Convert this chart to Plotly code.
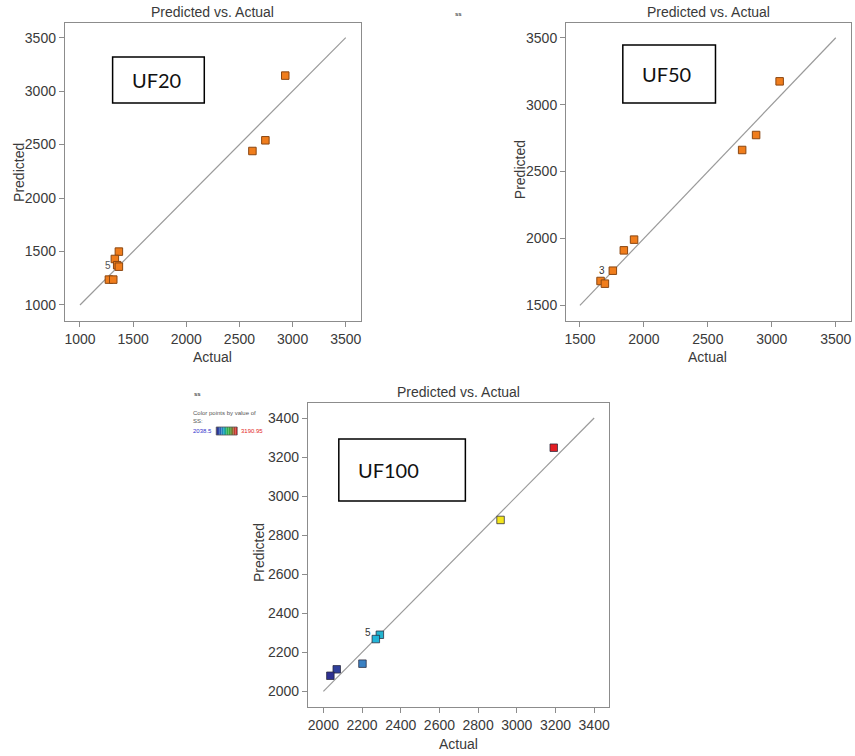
import plotly.graph_objects as go

W, H = 855, 756

# ---------------- data ----------------
uf20_actual = [2931, 2744, 2622, 1366, 1328, 1350, 1366, 1272, 1313]
uf20_pred = [3145, 2540, 2440, 1499, 1430, 1372, 1358, 1237, 1237]

uf50_actual = [3061, 2877, 2768, 1923, 1843, 1757, 1661, 1695]
uf50_pred = [3174, 2773, 2661, 1991, 1911, 1759, 1682, 1662]

uf100_actual = [3191, 2916, 2292, 2271, 2202, 2069, 2036]
uf100_pred = [3248, 2878, 2290, 2268, 2142, 2113, 2080]

uf20_ticks = [1000, 1500, 2000, 2500, 3000, 3500]
uf50_ticks = [1500, 2000, 2500, 3000, 3500]
uf100_ticks = [2000, 2200, 2400, 2600, 2800, 3000, 3200, 3400]

uf20_line = [1000, 3500]
uf50_line = [1500, 3500]
uf100_line = [2000, 3400]

ss_min, ss_max = 2038.5, 3190.95

# ---------------- styling ----------------
FONT = "Liberation Sans, Arial, sans-serif"
AXC = "#8c8c8c"
TXT = "#3a3a3a"
ORANGE = "#f07d1c"
ORANGE_EDGE = "#8a4712"
colorscale = [
    [0.0, "#2e3192"],
    [0.14, "#3b7fc2"],
    [0.2, "#22b4d8"],
    [0.5, "#2fb34a"],
    [0.76, "#f4e61c"],
    [1.0, "#e31e24"],
]


def px_x(p):
    return p / W


def px_y(p):
    return 1 - p / H


fig = go.Figure()

panels = [
    ("uf20", uf20_actual, uf20_pred, uf20_line, uf20_ticks, "x", "y", (63, 360, 23, 321), [857, 3641], [850, 3637]),
    ("uf50", uf50_actual, uf50_pred, uf50_line, uf50_ticks, "x2", "y2", (566, 852, 23, 321), [1391, 3619], [1383, 3610]),
    ("uf100", uf100_actual, uf100_pred, uf100_line, uf100_ticks, "x3", "y3", (307, 609, 403, 707), [1920, 3476], [1920, 3477]),
]

for name, act, pred, line, ticks, xa, ya, dom, xr, yr in panels:
    fig.add_trace(go.Scatter(
        x=line, y=line, mode="lines", xaxis=xa, yaxis=ya,
        line=dict(color="#9a9a9a", width=1.2), hoverinfo="skip", showlegend=False))
    if name == "uf100":
        marker = dict(symbol="square", size=7.5, color=act, colorscale=colorscale,
                      cmin=ss_min, cmax=ss_max, showscale=False,
                      line=dict(color="rgba(40,40,60,0.75)", width=1))
    else:
        marker = dict(symbol="square", size=7.5, color=ORANGE,
                      line=dict(color=ORANGE_EDGE, width=1))
    fig.add_trace(go.Scatter(
        x=act, y=pred, mode="markers", xaxis=xa, yaxis=ya,
        marker=marker, showlegend=False))

axis_common = dict(
    showline=True, mirror=True, linecolor=AXC, linewidth=1,
    ticks="outside", ticklen=5, tickcolor=AXC, tickwidth=1,
    showgrid=False, zeroline=False,
    tickfont=dict(family=FONT, size=14, color=TXT),
)

layout_axes = {}
for i, (name, act, pred, line, ticks, xa, ya, dom, xr, yr) in enumerate(panels):
    l, r, t, b = dom
    suffix = "" if i == 0 else str(i + 1)
    layout_axes["xaxis" + suffix] = dict(
        axis_common, domain=[px_x(l), px_x(r)], range=xr, tickvals=ticks,
        anchor="y" + suffix)
    layout_axes["yaxis" + suffix] = dict(
        axis_common, domain=[px_y(b), px_y(t)], range=yr, tickvals=ticks,
        anchor="x" + suffix)

annotations = []
shapes = []


def add_text(x, y, text, size, color=TXT, xanchor="center", yanchor="middle", angle=0, family=FONT):
    annotations.append(dict(
        x=px_x(x), y=px_y(y), xref="paper", yref="paper", text=text,
        showarrow=False, xanchor=xanchor, yanchor=yanchor, textangle=angle,
        font=dict(family=family, size=size, color=color)))


for name, act, pred, line, ticks, xa, ya, dom, xr, yr in panels:
    l, r, t, b = dom
    cx = (l + r) / 2
    add_text(cx, t - 11, "Predicted vs. Actual", 14)

add_text(211, 357, "Actual", 14)
add_text(708, 357, "Actual", 14)
add_text(458, 744, "Actual", 14)
add_text(17, 172, "Predicted", 14, angle=-90)
add_text(520, 170, "Predicted", 14, angle=-90)
add_text(258, 553, "Predicted", 14, angle=-90)

point_labels = [
    ("x", "y", 1310, 1372, "5", "#555"),
    ("x2", "y2", 1712, 1762, "3", "#333"),
    ("x3", "y3", 2255, 2300, "5", "#333"),
]
for xa, ya, xv, yv, txt, col in point_labels:
    annotations.append(dict(x=xv, y=yv, xref=xa, yref=ya, text=txt, showarrow=False,
                            xanchor="right", yanchor="middle",
                            font=dict(family=FONT, size=10, color=col)))

boxes = [
    ("UF20", 111, 203, 57, 103),
    ("UF50", 623, 716, 45, 103),
    ("UF100", 338, 465, 439, 501),
]
for txt, x0, x1, y0, y1 in boxes:
    shapes.append(dict(type="rect", xref="paper", yref="paper",
                       x0=px_x(x0), x1=px_x(x1), y0=px_y(y1), y1=px_y(y0),
                       line=dict(color="black", width=1.5), fillcolor="white", layer="below"))
    add_text(x0 + 17, (y0 + y1) / 2, txt, 20, color="#111", xanchor="left",
             family="Lato, Open Sans, sans-serif")

add_text(458, 14, "<b>ss</b>", 6, color="#444")
add_text(191, 394, "<b>ss</b>", 6, color="#444", xanchor="left")
add_text(190, 413, "Color points by value of", 6, color="#555", xanchor="left")
add_text(190, 421, "SS:", 6, color="#555", xanchor="left")
add_text(190, 431, f"{ss_min}", 6, color="#3333cc", xanchor="left")
add_text(238, 431, f"{ss_max}", 6, color="#e31e24", xanchor="left")

bar_cols = ["#2e3192", "#2c4aa8", "#2a64b5", "#1f86c0", "#1aa3b4", "#1faa80",
            "#2fb34a", "#3aa63a", "#5b8e34", "#8a6a30", "#b8402a", "#e31e24"]
bx0, bx1, by0, by1 = 215, 236, 427, 435
step = (bx1 - bx0) / len(bar_cols)
for k, c in enumerate(bar_cols):
    shapes.append(dict(type="rect", xref="paper", yref="paper",
                       x0=px_x(bx0 + k * step), x1=px_x(bx0 + (k + 1) * step),
                       y0=px_y(by1), y1=px_y(by0), line=dict(width=0), fillcolor=c))
shapes.append(dict(type="rect", xref="paper", yref="paper",
                   x0=px_x(bx0), x1=px_x(bx1), y0=px_y(by1), y1=px_y(by0),
                   line=dict(color="#555", width=0.8)))

fig.update_layout(
    width=W, height=H,
    margin=dict(l=0, r=0, t=0, b=0),
    paper_bgcolor="white", plot_bgcolor="white",
    showlegend=False,
    annotations=annotations, shapes=shapes,
    **layout_axes,
)

fig.write_html("out.html", config={"displayModeBar": False})
